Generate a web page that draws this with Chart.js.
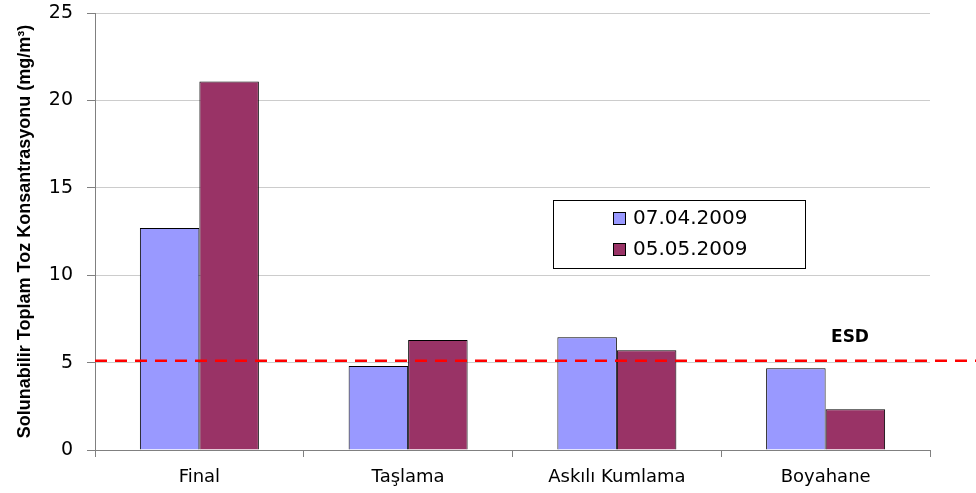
<!DOCTYPE html>
<html>
<head>
<meta charset="utf-8">
<script src="https://cdn.jsdelivr.net/npm/chart.js@4"></script>
<style>
  html, body { margin: 0; padding: 0; background: #fff; }
  #wrap { width: 976px; height: 493px; }
</style>
</head>
<body>
<div id="wrap"><canvas id="c" width="976" height="493"></canvas></div>
<script>
// Sampling sites and measured respirable dust concentrations (mg/m³)
const categories = ['Final', 'Taşlama', 'Askılı Kumlama', 'Boyahane'];
const seriesLabels = ['07.04.2009', '05.05.2009'];
const april = [12.7, 4.8, 6.45, 4.67];
const may = [21.08, 6.3, 5.7, 2.33];
const yTicks = [0, 5, 10, 15, 20, 25];
const esdLimit = 5.1;
const esdLabel = 'ESD';

const WIDE = '"DejaVu Sans", Verdana, sans-serif';
const ARIAL = '"Liberation Sans", Arial, sans-serif';

// Dashed limit line plus its caption
const limitLine = {
  id: 'limitLine',
  afterDatasetsDraw(chart) {
    const { ctx, chartArea, scales } = chart;
    const y = scales.y.getPixelForValue(esdLimit);
    ctx.save();
    ctx.strokeStyle = '#ff0000';
    ctx.lineWidth = 2.5;
    ctx.setLineDash([12, 8]);
    ctx.beginPath();
    ctx.moveTo(chartArea.left, y);
    ctx.lineTo(chart.width, y);
    ctx.stroke();
    ctx.setLineDash([]);
    ctx.fillStyle = '#000';
    ctx.font = 'bold 17px ' + WIDE;
    ctx.textAlign = 'center';
    ctx.textBaseline = 'middle';
    ctx.fillText(esdLabel, 850, y - 23);
    ctx.restore();
  }
};

// Boxed legend placed inside the plot area
const boxLegend = {
  id: 'boxLegend',
  afterDraw(chart) {
    const { ctx } = chart;
    const x0 = 553, y0 = 200, w = 252, h = 68;
    ctx.save();
    ctx.fillStyle = '#fff';
    ctx.fillRect(x0, y0, w, h);
    ctx.strokeStyle = '#000';
    ctx.lineWidth = 1;
    ctx.strokeRect(x0 + 0.5, y0 + 0.5, w, h);
    ctx.font = '20px ' + WIDE;
    ctx.textBaseline = 'middle';
    ctx.textAlign = 'left';
    chart.data.datasets.forEach((ds, i) => {
      const cy = y0 + 18 + i * 31;
      ctx.fillStyle = ds.backgroundColor;
      ctx.fillRect(613, cy - 6, 13, 13);
      ctx.strokeStyle = '#000';
      ctx.strokeRect(613.5, cy - 5.5, 12, 12);
      ctx.fillStyle = '#000';
      ctx.fillText(ds.label, 633, cy + 1);
    });
    ctx.restore();
  }
};

new Chart(document.getElementById('c'), {
  type: 'bar',
  data: {
    labels: categories,
    datasets: [
      { label: seriesLabels[0], data: april, backgroundColor: '#9999ff', borderColor: '#000000', borderWidth: 1 },
      { label: seriesLabels[1], data: may, backgroundColor: '#993366', borderColor: '#000000', borderWidth: 1 }
    ]
  },
  options: {
    responsive: false,
    animation: false,
    devicePixelRatio: 1,
    layout: { padding: { top: 13, right: 46, left: 0, bottom: 0 } },
    plugins: { legend: { display: false }, tooltip: { enabled: false } },
    datasets: { bar: { categoryPercentage: 0.57, barPercentage: 1.0 } },
    scales: {
      x: {
        grid: { offset: true, drawOnChartArea: false, drawTicks: true, tickLength: 7, tickColor: '#808080' },
        border: { color: '#808080', width: 1 },
        ticks: { color: '#000', font: { family: WIDE, size: 18 }, padding: 10 },
        afterFit(s) { s.height = 43; s.paddingLeft = 0; s.paddingRight = 0; }
      },
      y: {
        min: 0, max: 25,
        afterBuildTicks(s) { s.ticks = yTicks.map(v => ({ value: v })); },
        grid: { color: '#cccccc', tickLength: 8, tickColor: '#808080' },
        border: { color: '#808080', width: 1 },
        ticks: { color: '#000', font: { family: WIDE, size: 19 }, padding: 14 },
        title: {
          display: true,
          text: 'Solunabilir Toplam Toz Konsantrasyonu (mg/m³)',
          color: '#000',
          font: { family: ARIAL, size: 18, weight: 'bold' },
          padding: { top: 14, bottom: 4 }
        },
        afterFit(s) { s.width = 95; s.paddingTop = 0; s.paddingBottom = 0; }
      }
    }
  },
  plugins: [limitLine, boxLegend]
});
</script>
</body>
</html>
